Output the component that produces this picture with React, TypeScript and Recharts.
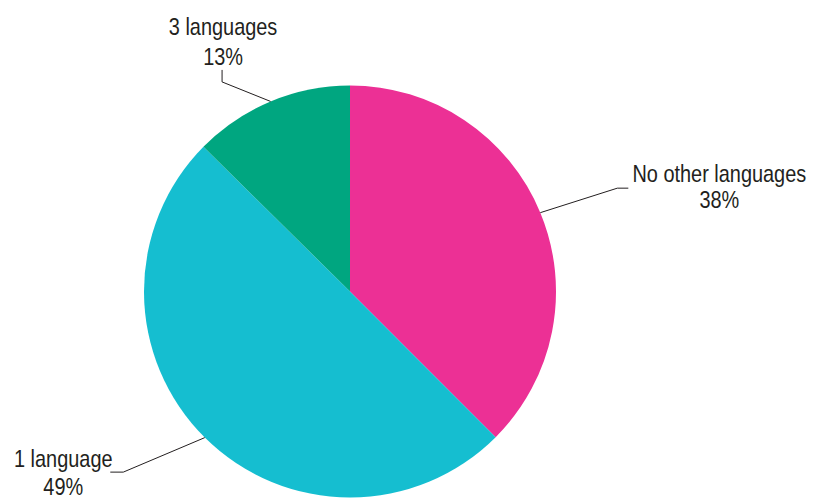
import React from "react";
import { PieChart, Pie, Cell } from "recharts";

const categories = ["No other languages", "1 language", "3 languages"];
const values = [37.5, 49.9, 12.6];
const percentLabels = ["38%", "49%", "13%"];
const colors = ["#EC3095", "#15BED0", "#00A680"];

const data = categories.map((name, i) => ({ name, value: values[i], pct: percentLabels[i] }));

// leader-line geometry relative to the slice's outer edge midpoint (style only)
const leader = [
  { elbow: [77, -24.5], end: [88, -24.5], text: [91, -6, 20] },
  { elbow: [-81.5, 34.5], end: [-94.5, 34.5], text: [-47, -5, 23] },
  { elbow: [-48.5, -19.5], end: [-48.5, -31.5], text: [1, -35, -5] },
];

const FONT = "'Liberation Sans', Arial, sans-serif";
const RAD = Math.PI / 180;
const SX = 0.83;

const Label = ({ x, y, children }: { x: number; y: number; children: React.ReactNode }) => (
  <g transform={`translate(${x},${y}) scale(${SX},1)`}>
    <text x={0} y={0} textAnchor="middle" fill="#231F20" fontSize={24} fontFamily={FONT}>
      {children}
    </text>
  </g>
);

const renderLabel = (props: any) => {
  const { cx, cy, midAngle, outerRadius, index, name, payload } = props;
  const sx = cx + outerRadius * Math.cos(-midAngle * RAD);
  const sy = cy + outerRadius * Math.sin(-midAngle * RAD);
  const L = leader[index];
  const ex = sx + L.elbow[0];
  const ey = sy + L.elbow[1];
  const tx = sx + L.end[0];
  const ty = sy + L.end[1];
  const textX = tx + L.text[0];
  return (
    <g key={`lbl-${index}`}>
      <polyline
        points={`${sx},${sy} ${ex},${ey} ${tx},${ty}`}
        fill="none"
        stroke="#231F20"
        strokeWidth={1}
      />
      <Label x={textX} y={ty + L.text[1]}>{name}</Label>
      <Label x={textX} y={ty + L.text[2]}>{payload?.pct ?? props.pct}</Label>
    </g>
  );
};

export default function App() {
  return (
    <>
      <style>{`html,body{margin:0;padding:0;overflow:hidden;background:#fff}`}</style>
      <div style={{ width: 816, height: 502, overflow: "hidden", background: "#fff" }}>
        <PieChart width={816} height={502} margin={{ top: 0, right: 0, bottom: 0, left: 0 }}>
          <Pie
            data={data}
            dataKey="value"
            nameKey="name"
            cx={350}
            cy={291.5}
            outerRadius={206}
            startAngle={90}
            endAngle={-270}
            stroke="none"
            isAnimationActive={false}
            label={renderLabel}
            labelLine={false}
          >
            {data.map((d, i) => (
              <Cell key={d.name} fill={colors[i]} />
            ))}
          </Pie>
        </PieChart>
      </div>
    </>
  );
}
